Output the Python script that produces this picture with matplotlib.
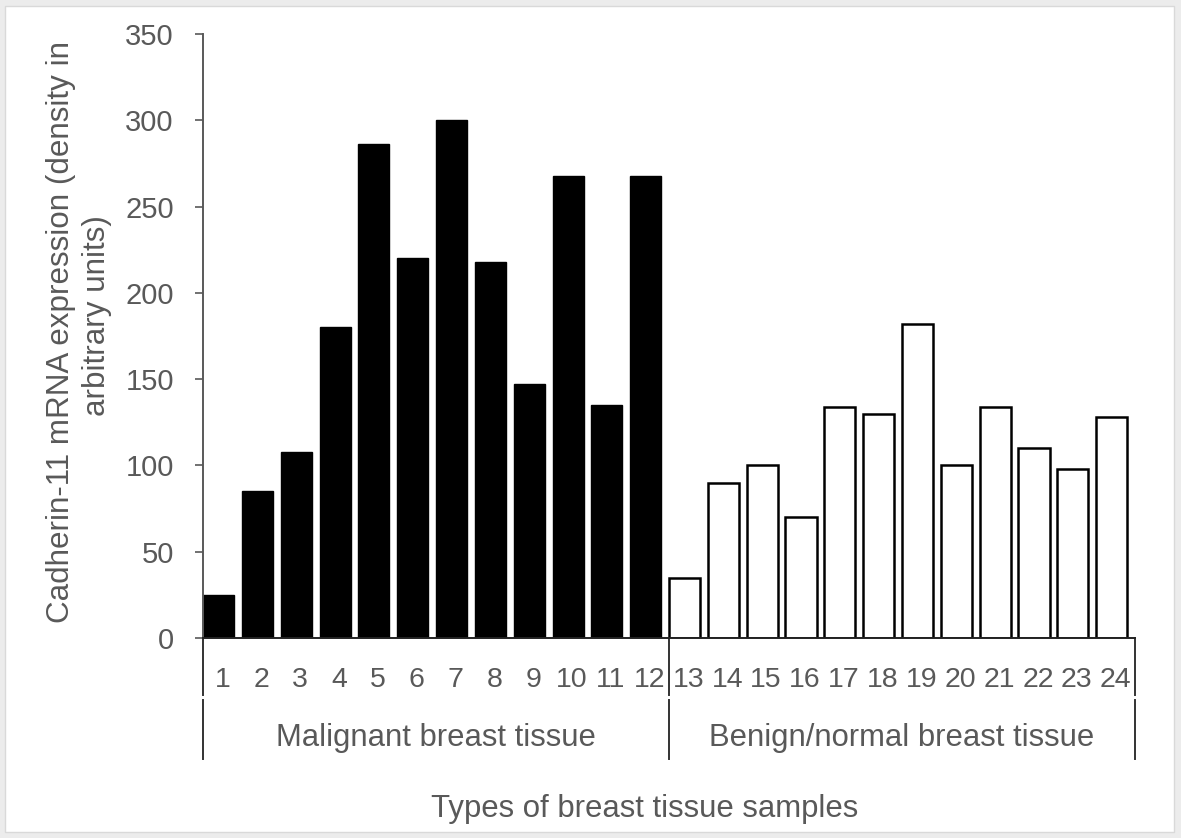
import matplotlib.pyplot as plt
from matplotlib.patches import Rectangle

# sample numbers and expression values
samples = [str(i) for i in range(1, 25)]
malignant = [25, 85, 108, 180, 286, 220, 300, 218, 147, 268, 135, 268]
benign = [35, 90, 100, 70, 134, 130, 182, 100, 134, 110, 98, 128]
groups = ['Malignant breast tissue', 'Benign/normal breast tissue']
yticks = [0, 50, 100, 150, 200, 250, 300, 350]

grey = '#595959'
plt.rcParams['font.family'] = ['Liberation Sans', 'DejaVu Sans']

fig = plt.figure(figsize=(11.81, 8.38), dpi=100)
fig.patch.set_facecolor('#ececec')
fig.patches.append(Rectangle((5 / 1181, 6 / 838), 1 - 12 / 1181, 1 - 12 / 838,
                             transform=fig.transFigure, facecolor='white',
                             edgecolor='#d9d9d9', linewidth=1, zorder=-10))

ax = fig.add_axes([203 / 1181, 200 / 838, 932 / 1181, 604 / 838])
ax.set_facecolor('none')

n_mal = len(malignant)
x_mal = list(range(0, n_mal))
x_ben = list(range(n_mal, n_mal + len(benign)))

ax.bar(x_mal, malignant, width=0.8, align='edge', color='black', edgecolor='black', linewidth=1)
ax.bar(x_ben, benign, width=0.8, align='edge', color='white', edgecolor='black', linewidth=1.8)

ax.set_xlim(0, 24)
ax.set_ylim(0, 350)

ax.set_yticks(yticks)
ax.set_yticklabels([str(v) for v in yticks])
ax.tick_params(axis='y', direction='out', length=6, width=1.2, color=grey,
               labelsize=21, labelcolor=grey, pad=15)

ax.set_xticks([i + 0.5 for i in range(24)])
ax.set_xticklabels(samples)
ax.tick_params(axis='x', length=0, labelsize=20.5, labelcolor=grey, pad=21)

for side in ['top', 'right']:
    ax.spines[side].set_visible(False)
ax.spines['left'].set_color(grey)
ax.spines['left'].set_linewidth(1.4)
ax.spines['bottom'].set_color('#222222')
ax.spines['bottom'].set_linewidth(1.4)

# group separators below the axis
trans = ax.get_xaxis_transform()
for xs in [0, 12, 24]:
    ax.plot([xs, xs], [0, -0.094], transform=trans, color='#333333', lw=1.4, clip_on=False)
    ax.plot([xs, xs], [-0.103, -0.2], transform=trans, color='#333333', lw=1.4, clip_on=False)

ax.text(6, -0.166, groups[0], transform=trans, ha='center', va='center', fontsize=22.3, color=grey)
ax.text(18, -0.166, groups[1], transform=trans, ha='center', va='center', fontsize=22.3, color=grey)

ax.text(11.38, -0.283, 'Types of breast tissue samples', transform=trans, ha='center', va='center',
        fontsize=22.4, color=grey)

# y title, two lines placed separately like the original
fig.text(61 / 1181, 1 - 332 / 838, 'Cadherin-11 mRNA expression (density in',
         rotation=90, ha='center', va='center', fontsize=22.6, color=grey)
fig.text(97 / 1181, 1 - 316 / 838, 'arbitrary units)',
         rotation=90, ha='center', va='center', fontsize=22.6, color=grey)

fig.savefig('out.png', dpi=100, facecolor=fig.get_facecolor())
